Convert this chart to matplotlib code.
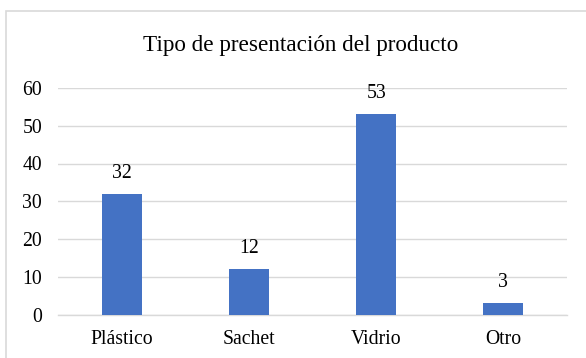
import matplotlib.pyplot as plt
from matplotlib.patches import Rectangle

categories = ["Plástico", "Sachet", "Vidrio", "Otro"]
values = [32, 12, 53, 3]
y_ticks = [0, 10, 20, 30, 40, 50, 60]
title = "Tipo de presentación del producto"

plt.rcParams['font.family'] = ['Liberation Serif', 'DejaVu Serif']

W, H = 586, 358
fig = plt.figure(figsize=(W / 100, H / 100), dpi=100)

# chart border (runs past the right and bottom edges)
fig.patches.append(Rectangle((5.5 / W, -0.05), 1.2, 1 - 10.5 / H + 0.05,
                             transform=fig.transFigure, fill=False,
                             edgecolor='#d9d9d9', linewidth=1.2))

left, right = 58 / W, 567 / W
bottom, top = 1 - 314.5 / H, 1 - 88 / H
ax = fig.add_axes([left, bottom, right - left, top - bottom])

x = range(len(categories))
bars = ax.bar(x, values, width=0.315, color='#4472C4', zorder=3)
ax.set_xlim(-0.5, len(categories) - 0.5)
ax.set_ylim(0, 60)
ax.set_yticks(y_ticks)
ax.yaxis.grid(True, color='#d9d9d9', linewidth=1.0, zorder=0)
ax.set_xticks(list(x))
ax.set_xticklabels(categories, fontsize=14.2)
ax.tick_params(axis='y', labelsize=14.2, length=0, pad=11.5)
ax.tick_params(axis='x', length=0, pad=11)
for s in ['top', 'right', 'left']:
    ax.spines[s].set_visible(False)
ax.spines['bottom'].set_color('#d9d9d9')
ax.spines['bottom'].set_linewidth(1.0)

for xi, v in zip(x, values):
    ax.annotate(str(v), (xi, v), xytext=(0, 8), textcoords='offset points',
                ha='center', va='bottom', fontsize=14.2)

fig.text(301 / W, 1 - 45 / H, title, ha='center', va='center', fontsize=16.7)

fig.savefig('out.png', dpi=100)
